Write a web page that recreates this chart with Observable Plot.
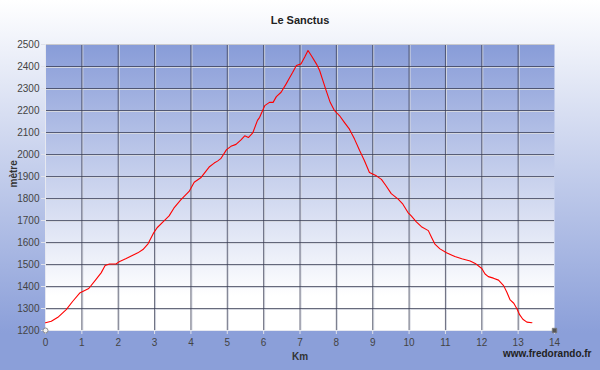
<!DOCTYPE html>
<html><head><meta charset="utf-8">
<script src="https://cdn.jsdelivr.net/npm/d3@7"></script>
<script src="https://cdn.jsdelivr.net/npm/@observablehq/plot@0.6"></script>
<style>
html,body{margin:0;padding:0;}
#chart{width:600px;height:370px;background:linear-gradient(to bottom,#ffffff 0%,#8b9fd9 90%,#8b9fd9 100%);}
#chart svg{display:block;}
</style></head><body><div id="chart"></div>
<script>
const km = [0, 0.16, 0.34, 0.57, 0.75, 0.94, 1.19, 1.39, 1.53, 1.64, 1.76, 1.94, 2.04, 2.22, 2.40, 2.54, 2.68, 2.82, 2.98, 3.07, 3.26, 3.40, 3.53, 3.72, 3.95, 4.09, 4.27, 4.50, 4.64, 4.73, 4.82, 4.98, 5.10, 5.24, 5.37, 5.48, 5.58, 5.70, 5.83, 5.89, 6.03, 6.16, 6.26, 6.35, 6.48, 6.62, 6.71, 6.80, 6.90, 7.03, 7.13, 7.22, 7.31, 7.45, 7.54, 7.63, 7.72, 7.83, 7.95, 8.09, 8.22, 8.36, 8.50, 8.64, 8.77, 8.91, 9.10, 9.24, 9.37, 9.51, 9.70, 9.83, 9.97, 10.06, 10.20, 10.34, 10.53, 10.62, 10.71, 10.85, 11.03, 11.26, 11.45, 11.68, 11.82, 12.00, 12.09, 12.18, 12.32, 12.46, 12.60, 12.69, 12.78, 12.88, 12.97, 13.04, 13.13, 13.24, 13.38];
const altitude = [1235, 1242, 1260, 1295, 1333, 1370, 1391, 1432, 1462, 1495, 1502, 1502, 1514, 1527, 1542, 1553, 1568, 1594, 1645, 1667, 1698, 1721, 1756, 1794, 1832, 1874, 1894, 1943, 1961, 1970, 1981, 2022, 2037, 2046, 2065, 2085, 2077, 2098, 2155, 2169, 2222, 2237, 2237, 2263, 2283, 2321, 2348, 2374, 2405, 2412, 2443, 2473, 2450, 2412, 2382, 2336, 2290, 2237, 2199, 2176, 2146, 2115, 2070, 2018, 1973, 1918, 1903, 1887, 1857, 1822, 1797, 1774, 1736, 1721, 1694, 1672, 1654, 1623, 1593, 1571, 1553, 1536, 1526, 1516, 1505, 1482, 1457, 1445, 1438, 1429, 1404, 1374, 1339, 1324, 1298, 1272, 1251, 1238, 1235];
const xTicks = [0,1,2,3,4,5,6,7,8,9,10,11,12,13,14];
const yTicks = [1200,1300,1400,1500,1600,1700,1800,1900,2000,2100,2200,2300,2400,2500];
const cornerKm = [0, 14];
const cornerAlt = [1200, 1200];
const cornerSymbol = ["circle", "square"];
const title = "Le Sanctus";
const xLabel = "Km";
const yLabel = "mètre";
const credit = "www.fredorando.fr";

const data = km.map((k, i) => ({km: k, alt: altitude[i]}));
const corners = cornerKm.map((k, i) => ({km: k, alt: cornerAlt[i], sym: cornerSymbol[i]}));
const innerX = xTicks.slice(1, -1);
const innerY = yTicks.slice(1, -1);
const font = "'Liberation Sans', Arial, sans-serif";

const plot = Plot.plot({
  width: 600, height: 370,
  marginLeft: 45, marginRight: 46, marginTop: 44, marginBottom: 40,
  style: {background: "transparent", fontFamily: font, fontSize: "10px", color: "#3a3a3a"},
  x: {domain: [0, 14]},
  y: {domain: [1200, 2500]},
  symbol: {domain: ["circle", "square"], range: ["circle", "square"]},
  marks: [
    Plot.frame({fill: "url(#plotGrad)", stroke: null}),
    Plot.gridX(innerX, {stroke: "#d4d7e0", strokeOpacity: 1, dx: 1}),
    Plot.gridY(innerY, {stroke: "#d4d7e0", strokeOpacity: 1, dy: 1}),
    Plot.gridX(innerX, {stroke: "#353a50", strokeOpacity: 0.75}),
    Plot.gridY(innerY, {stroke: "#353a50", strokeOpacity: 0.75}),
    Plot.ruleY([2500], {stroke: "#c9c9cc"}),
    Plot.ruleY([1200], {stroke: "#e6e8f0"}),
    Plot.ruleX([0], {stroke: "#e6e8f0"}),
    Plot.axisX(xTicks, {tickSize: 4, tickPadding: 4, label: null, tickFormat: d3.format("d"), stroke: "#e0e2ea", fill: "#444"}),
    Plot.axisY(yTicks, {tickSize: 4, tickPadding: 2, label: null, tickFormat: d3.format("d"), stroke: "#e0e2ea", fill: "#444"}),
    Plot.line(data, {x: "km", y: "alt", stroke: "#ff0000", strokeWidth: 1.1}),
    Plot.dot(corners, {x: "km", y: "alt", symbol: "sym", r: 2.5, fill: d => d.sym === "circle" ? "#f2f2f2" : "#555", stroke: "#777", strokeWidth: 0.8}),
    Plot.text([title], {frameAnchor: "top", dy: -28, fontWeight: "bold", fontSize: 11, fill: "#222"}),
    Plot.text([xLabel], {frameAnchor: "bottom", dy: 29, fontWeight: "bold", fontSize: 10, fill: "#333"}),
    Plot.text([yLabel], {frameAnchor: "left", dx: -32, rotate: -90, fontWeight: "bold", fontSize: 10, fill: "#333"}),
    Plot.text([credit], {frameAnchor: "bottom-right", dx: 37, dy: 26, textAnchor: "end", fontWeight: "bold", fontSize: 10, fill: "#222"})
  ]
});

const defs = d3.select(plot).insert("defs", ":first-child");
const g = defs.append("linearGradient").attr("id", "plotGrad").attr("x1", 0).attr("y1", 0).attr("x2", 0).attr("y2", 1);
g.append("stop").attr("offset", "0%").attr("stop-color", "#889cd8");
g.append("stop").attr("offset", "88%").attr("stop-color", "#ffffff");
g.append("stop").attr("offset", "100%").attr("stop-color", "#ffffff");

document.getElementById("chart").appendChild(plot);
</script>
</body></html>
